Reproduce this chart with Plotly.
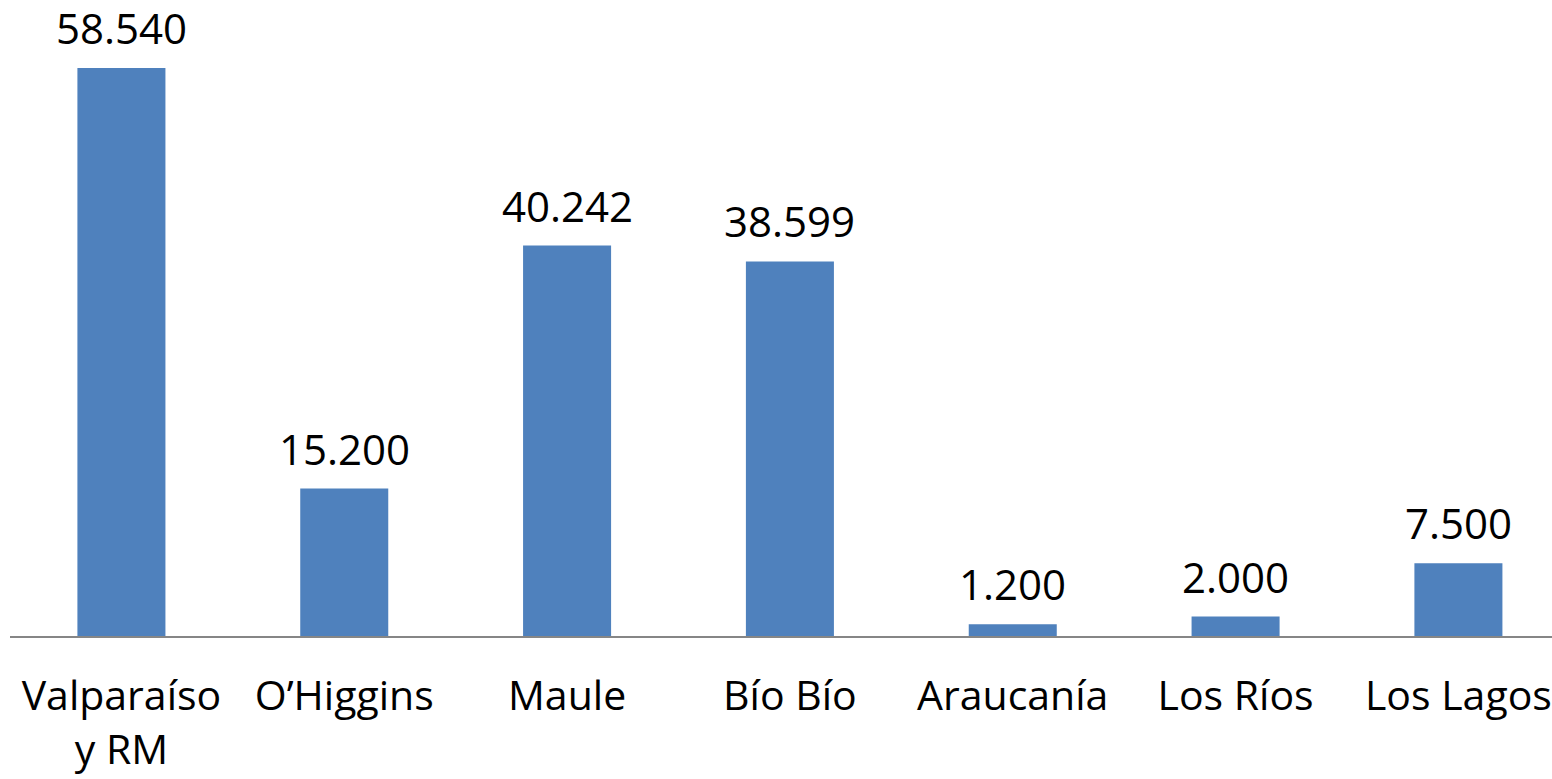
import plotly.graph_objects as go

categories = ["Valparaíso<br>y RM", "O’Higgins", "Maule", "Bío Bío", "Araucanía", "Los Ríos", "Los Lagos"]
values = [58540, 15200, 40242, 38599, 1200, 2000, 7500]
labels = [f"{v:,}".replace(",", ".") for v in values]

FONT = "Open Sans"
fig = go.Figure()
fig.add_trace(go.Bar(
    x=categories, y=values,
    marker=dict(color="#4F81BD", line=dict(width=0)),
    width=0.395,
))
for c, v, t in zip(categories, values, labels):
    fig.add_annotation(x=c, y=v, text=t, showarrow=False, yanchor="bottom",
                       yshift=10, font=dict(family=FONT, size=42, color="#000000"))

fig.update_layout(
    width=1552, height=779,
    margin=dict(l=10, r=0, t=0, b=143),
    paper_bgcolor="white", plot_bgcolor="white",
    showlegend=False,
    font=dict(family=FONT, size=41, color="#000000"),
    xaxis=dict(range=[-0.5, 6.42], showline=True, linecolor="#868686", linewidth=2,
               ticks="outside", ticklen=23, tickcolor="rgba(0,0,0,0)", showgrid=False,
               tickfont=dict(family=FONT, size=41, color="#000000")),
    yaxis=dict(range=[0, 65548], visible=False, showgrid=False),
)
fig.write_html("out.html", config={"displayModeBar": False},
               post_script="document.body.style.margin='0';document.body.style.overflow='hidden';")
